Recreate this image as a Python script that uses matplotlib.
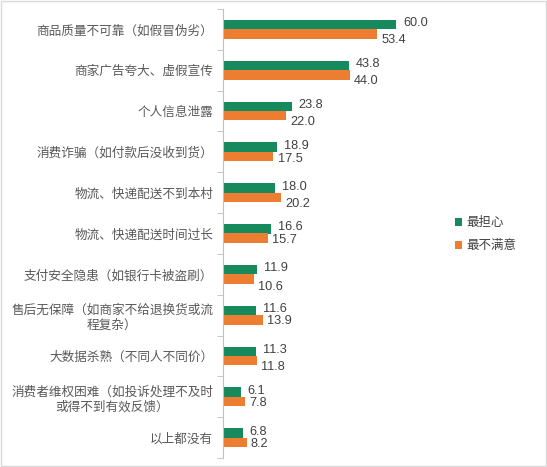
import matplotlib.pyplot as plt
import numpy as np

plt.rcParams['font.family'] = ['Noto Sans CJK SC', 'DejaVu Sans']

categories = ['商品质量不可靠（如假冒伪劣）',
              '商家广告夸大、虚假宣传',
              '个人信息泄露',
              '消费诈骗（如付款后没收到货）',
              '物流、快递配送不到本村',
              '物流、快递配送时间过长',
              '支付安全隐患（如银行卡被盗刷）',
              '售后无保障（如商家不给退换货或流\n程复杂）',
              '大数据杀熟（不同人不同价）',
              '消费者维权困难（如投诉处理不及时\n或得不到有效反馈）',
              '以上都没有']
worry = [60.0, 43.8, 23.8, 18.9, 18.0, 16.6, 11.9, 11.6, 11.3, 6.1, 6.8]
unsatisfied = [53.4, 44.0, 22.0, 17.5, 20.2, 15.7, 10.6, 13.9, 11.8, 7.8, 8.2]
series_names = ['最担心', '最不满意']

# label shift downward (points) for the orange values, as Excel placed them
orange_dy = [-4.5, -4.5, -4.5, -2, -4.5, -1, -6, -1, -4.5, -1, -1]

green = '#168A5C'
orange = '#ED7D31'

fig = plt.figure(figsize=(5.47, 4.67), dpi=100)
ax = fig.add_axes([0.4077, 0.019, 0.527, 0.962])

y = np.arange(len(categories))
h = 0.23
ax.barh(y - h / 2, worry, height=h, color=green, label=series_names[0])
ax.barh(y + h / 2, unsatisfied, height=h, color=orange, label=series_names[1])

for i in range(len(categories)):
    ax.annotate(f'{worry[i]:.1f}', (worry[i], y[i] - h / 2), xytext=(5, 1),
                textcoords='offset points', va='center', ha='left',
                fontsize=9.2, color='#404040', family='Liberation Sans')
    ax.annotate(f'{unsatisfied[i]:.1f}', (unsatisfied[i], y[i] + h / 2),
                xytext=(3, orange_dy[i]), textcoords='offset points',
                va='center', ha='left', fontsize=9.2, color='#404040',
                family='Liberation Sans')

ax.set_xlim(0, 100)
ax.set_ylim(len(categories) - 0.5, -0.5)
ax.set_yticks(y)
ax.set_yticklabels(categories, fontsize=9.1, color='#595959',
                   multialignment='center')
ax.set_yticks(np.arange(len(categories) + 1) - 0.5, minor=True)
ax.tick_params(axis='y', which='major', length=0, pad=7)
ax.tick_params(axis='y', which='minor', length=4, color='#BFBFBF')
ax.set_xticks([])
for s in ['top', 'right', 'bottom']:
    ax.spines[s].set_visible(False)
ax.spines['left'].set_color('#BFBFBF')

ax.legend(loc='center left', bbox_to_anchor=(0.765, 0.498), frameon=False,
          fontsize=9, handlelength=0.6, handleheight=0.6, handletextpad=0.3,
          labelspacing=0.8, labelcolor='#404040')

fig.patches.append(plt.Rectangle((0.002, 0.002), 0.996, 0.996,
                                 transform=fig.transFigure, fill=False,
                                 edgecolor='#D9D9D9', linewidth=1))

fig.savefig('out.png', dpi=100)
